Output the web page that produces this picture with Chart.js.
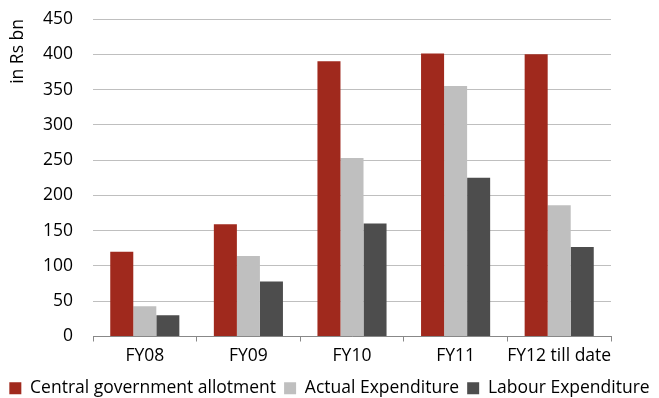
<!DOCTYPE html>
<html>
<head>
<meta charset="utf-8">
<script src="https://cdn.jsdelivr.net/npm/chart.js@4"></script>
<style>
html,body{margin:0;padding:0;background:#fff;}
#wrap{width:659px;height:398px;position:relative;}
</style>
</head>
<body>
<div id="wrap"><canvas id="c" width="659" height="398"></canvas></div>
<script>
const categories = ["FY08", "FY09", "FY10", "FY11", "FY12 till date"];
const centralAllotment = [120, 159, 390, 401, 400];
const actualExpenditure = [43, 114, 253, 355, 186];
const labourExpenditure = [30, 78, 160, 225, 127];
const seriesNames = ["Central government allotment", "Actual Expenditure", "Labour Expenditure"];
const yTicks = [0, 50, 100, 150, 200, 250, 300, 350, 400, 450];

const FONT = "'Open Sans', 'DejaVu Sans', sans-serif";

new Chart(document.getElementById('c'), {
  type: 'bar',
  data: {
    labels: categories,
    datasets: [
      {label: seriesNames[0], data: centralAllotment, backgroundColor: '#A0291D'},
      {label: seriesNames[1], data: actualExpenditure, backgroundColor: '#BFBFBF'},
      {label: seriesNames[2], data: labourExpenditure, backgroundColor: '#4D4D4D'}
    ]
  },
  options: {
    responsive: false,
    animation: false,
    devicePixelRatio: 1,
    layout: {padding: {left: 0, right: 0, top: 19, bottom: -9}},
    datasets: {bar: {categoryPercentage: 0.667, barPercentage: 1.0}},
    plugins: {
      legend: {
        position: 'bottom',
        align: 'center',
        labels: {
          boxWidth: 12, boxHeight: 12, padding: 8,
          color: '#000', font: {family: FONT, size: 17.5}
        }
      },
      tooltip: {enabled: false}
    },
    scales: {
      x: {
        grid: {display: true, drawOnChartArea: false, offset: true, tickLength: 5, color: '#888'},
        border: {display: true, color: '#888', width: 1},
        ticks: {color: '#000', font: {family: FONT, size: 17.5}, padding: 4, maxRotation: 0, autoSkip: false},
        afterFit: (axis) => { axis.height = 35; axis.paddingLeft = 0; axis.paddingRight = 0; }
      },
      y: {
        min: 0, max: 450,
        afterBuildTicks: (axis) => { axis.ticks = yTicks.map(v => ({value: v})); },
        grid: {color: '#BFBFBF', lineWidth: 1, drawTicks: false},
        border: {display: false},
        ticks: {color: '#000', font: {family: FONT, size: 17.5}, padding: 20},
        title: {display: true, text: 'in Rs bn', align: 'end', color: '#000', font: {family: FONT, size: 17.5}, padding: {top: 8, bottom: 0}},
        afterFit: (axis) => { axis.width = 93; axis.paddingTop = 0; axis.paddingBottom = 0; }
      },
      yRight: {
        position: 'right',
        min: 0, max: 450,
        grid: {drawOnChartArea: false, drawTicks: false},
        border: {display: false},
        ticks: {display: false},
        afterFit: (axis) => { axis.width = 48; axis.paddingTop = 0; axis.paddingBottom = 0; }
      }
    }
  }
});
</script>
</body>
</html>
